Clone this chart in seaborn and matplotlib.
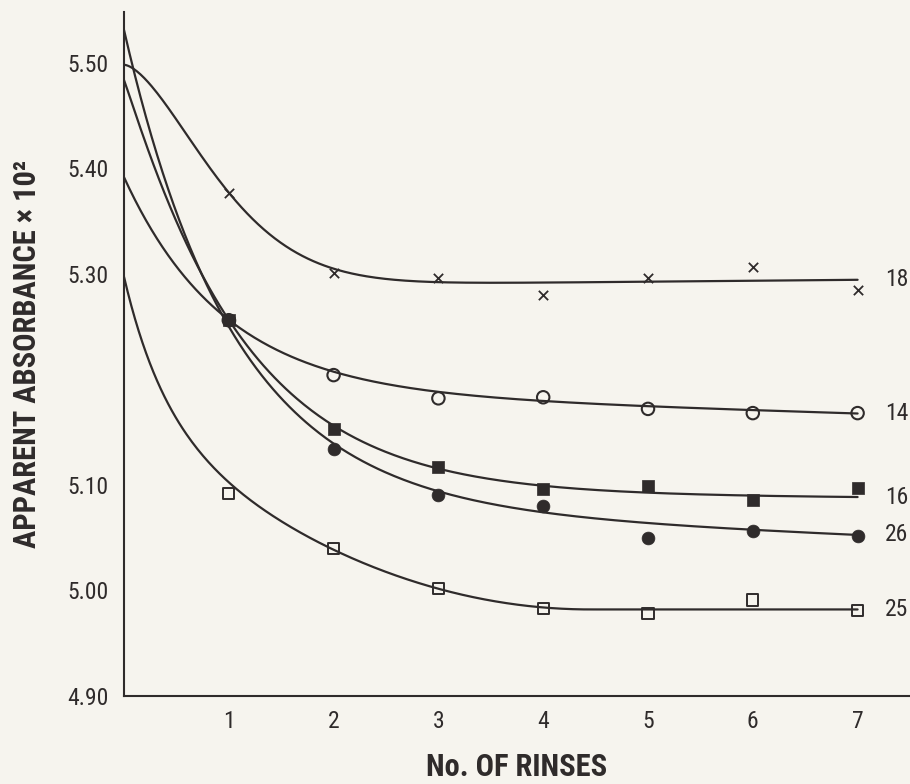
import numpy as np
import pandas as pd
import seaborn as sns
import matplotlib.pyplot as plt
from matplotlib import font_manager

rinses = [1, 2, 3, 4, 5, 6, 7]
series_names = ["18", "14", "16", "26", "25"]
s18 = [5.377, 5.301, 5.296, 5.280, 5.296, 5.306, 5.285]
s14 = [5.256, 5.204, 5.182, 5.183, 5.172, 5.168, 5.168]
s16 = [5.256, 5.153, 5.117, 5.096, 5.099, 5.086, 5.097]
s26 = [5.256, 5.134, 5.090, 5.080, 5.050, 5.056, 5.052]
s25 = [5.092, 5.040, 5.002, 4.983, 4.978, 4.991, 4.981]

# hand-drawn smooth curves:
# plateau + slope*x + amp*exp(-(x/scale)^power) + ramp*max(ramp_end - x, 0)^2
plateau = [5.288, 5.1885, 5.0915, 5.080, 4.982]
slope = [0.0009, -0.003, -0.0005, -0.004, 0.0]
amp = [0.210, 0.203, 0.392, 0.451, 0.131]
scale = [1.091, 0.95, 1.15, 1.05, 0.385]
power = [1.6, 1.0, 1.05, 1.0, 1.0]
ramp = [0.0, 0.0, 0.0, 0.0, 0.0093]
ramp_end = [0.0, 0.0, 0.0, 0.0, 4.45]

y_ticks = [4.90, 5.00, 5.10, 5.30, 5.40, 5.50]

ink = "#2f2b2b"
paper = "#f6f4ee"

sns.set_theme(style="white")

# pick a narrow face if one is installed
installed = {f.name for f in font_manager.fontManager.ttflist}
condensed_dejavu = any(f.name == "DejaVu Sans" and f.stretch == "condensed"
                       for f in font_manager.fontManager.ttflist)
family = "DejaVu Sans"
for cand in ["Roboto Condensed", "Liberation Sans Narrow", "Open Sans Condensed"]:
    if cand in installed:
        family = cand
        break
plt.rcParams["font.family"] = [family, "DejaVu Sans"]
if family == "DejaVu Sans" and condensed_dejavu:
    plt.rcParams["font.stretch"] = "condensed"
narrow = family != "DejaVu Sans" or condensed_dejavu

fig = plt.figure(figsize=(9.1, 7.84), dpi=100, facecolor=paper)
ax = fig.add_axes([124 / 910, 1 - 696 / 784, 786 / 910, 684 / 784])
ax.set_facecolor(paper)


def curve(i, x):
    return (plateau[i] + slope[i] * x
            + amp[i] * np.exp(-(x / scale[i]) ** power[i])
            + ramp[i] * np.clip(ramp_end[i] - x, 0, None) ** 2)


# 1. curves
x_line = np.linspace(0, 7, 400)
curve_df = pd.concat([pd.DataFrame({"x": x_line, "y": curve(i, x_line), "series": name})
                      for i, name in enumerate(series_names)])
sns.lineplot(data=curve_df, x="x", y="y", units="series", estimator=None,
             color=ink, lw=1.6, sort=False, ax=ax)

# 2. points
points = pd.DataFrame({
    "rinses": rinses * 5,
    "value": s18 + s14 + s16 + s26 + s25,
    "series": np.repeat(series_names, len(rinses)),
})
sel = lambda n: points[points["series"] == n]
sns.scatterplot(data=sel("18"), x="rinses", y="value", marker="x", s=45,
                color=ink, linewidth=1.3, ax=ax, zorder=3)
sns.scatterplot(data=sel("14"), x="rinses", y="value", marker="o", s=80,
                facecolor="none", edgecolor=ink, linewidth=1.5, ax=ax, zorder=3)
sns.scatterplot(data=sel("26"), x="rinses", y="value", marker="o", s=85,
                color=ink, edgecolor=ink, linewidth=0.5, ax=ax, zorder=3)
sns.scatterplot(data=sel("16"), x="rinses", y="value", marker="s", s=80,
                color=ink, edgecolor=ink, linewidth=0.5, ax=ax, zorder=4)
sns.scatterplot(data=sel("25"), x="rinses", y="value", marker="s", s=65,
                facecolor="none", edgecolor=ink, linewidth=1.4, ax=ax, zorder=3)

tick_size = 17 if narrow else 14
label_size = 22 if narrow else 16

# 3. series labels at the right end of each curve
for i, name in enumerate(series_names):
    ax.text(0.998, curve(i, 7.0), name, ha="right", va="center",
            fontsize=tick_size, color=ink, transform=ax.get_yaxis_transform())

ax.set_xlim(0, 7.5)
ax.set_ylim(4.90, 5.548)
ax.set_xticks(rinses)
ax.set_xticklabels([str(r) for r in rinses])
ax.set_yticks(y_ticks)
ax.set_yticklabels([f"{v:.2f}" for v in y_ticks])
ax.tick_params(length=0, labelsize=tick_size, colors=ink)
ax.tick_params(axis="x", pad=10)
ax.tick_params(axis="y", pad=11)

for side in ["top", "right"]:
    ax.spines[side].set_visible(False)
for side in ["left", "bottom"]:
    ax.spines[side].set_color(ink)
    ax.spines[side].set_linewidth(1.5)

ax.set_xlabel("No. OF RINSES", fontsize=label_size, fontweight="bold", color=ink)
ax.set_ylabel("APPARENT ABSORBANCE × 10²", fontsize=label_size, fontweight="bold", color=ink)
ax.xaxis.set_label_coords(0.5, -0.082)
ax.yaxis.set_label_coords(-0.104, 0.5)

fig.savefig("out.png", dpi=100, facecolor=paper)
